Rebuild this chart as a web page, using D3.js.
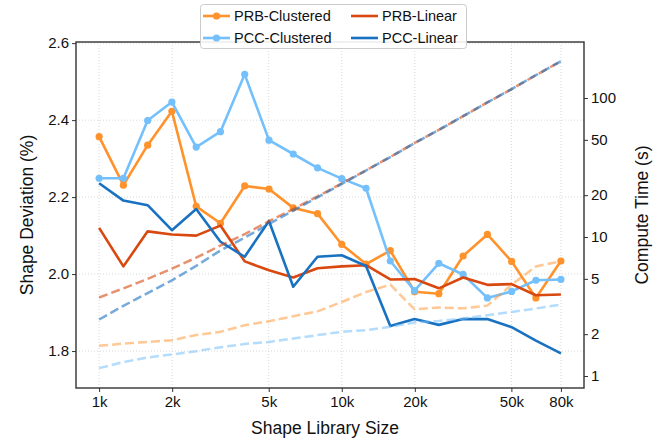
<!DOCTYPE html>
<html>
<head>
<meta charset="utf-8">
<script src="https://cdn.jsdelivr.net/npm/d3@7/dist/d3.min.js"></script>
<style>
  html, body { margin: 0; padding: 0; background: #fff; }
  svg { display: block; font-family: "Liberation Sans", Arial, sans-serif; }
</style>
</head>
<body>
<svg id="chart" width="672" height="440"></svg>
<script>
// Shape library sizes (x axis, log scale)
const sizes = [1000, 1259, 1585, 1995, 2512, 3162, 3981, 5012, 6310, 7943,
               10000, 12589, 15849, 19953, 25119, 31623, 39811, 50119, 63096, 80000];

// Shape deviation (%) — left axis
const prbClustered = [2.357, 2.231, 2.335, 2.423, 2.176, 2.132, 2.229, 2.221, 2.172, 2.157,
                      2.077, 2.026, 2.061, 1.954, 1.949, 2.047, 2.103, 2.033, 1.938, 2.034];
const pccClustered = [2.249, 2.249, 2.399, 2.447, 2.330, 2.370, 2.519, 2.348, 2.312, 2.276,
                      2.248, 2.223, 2.034, 1.957, 2.028, 1.999, 1.938, 1.955, 1.984, 1.986];
const prbLinear    = [2.120, 2.020, 2.111, 2.103, 2.100, 2.126, 2.033, 2.010, 1.991, 2.015,
                      2.020, 2.023, 1.986, 1.987, 1.963, 1.991, 1.972, 1.974, 1.945, 1.947];
const pccLinear    = [2.236, 2.191, 2.179, 2.114, 2.169, 2.084, 2.045, 2.138, 1.967, 2.045,
                      2.049, 2.021, 1.865, 1.883, 1.868, 1.883, 1.883, 1.862, 1.827, 1.794];

// Compute time (s) — right axis
const prbClusteredTime = [1.65, 1.71, 1.76, 1.81, 1.97, 2.08, 2.32, 2.48, 2.69, 2.92,
                          3.41, 4.02, 4.54, 3.02, 3.11, 3.07, 3.21, 4.54, 6.14, 6.70];
const pccClusteredTime = [1.14, 1.26, 1.36, 1.43, 1.51, 1.61, 1.70, 1.76, 1.86, 1.97,
                          2.08, 2.14, 2.26, 2.43, 2.49, 2.59, 2.74, 2.89, 3.06, 3.27];
const prbLinearTime    = [3.67, 4.27, 5.0, 5.92, 7.1, 8.69, 10.5, 13.0, 15.9, 19.6,
                          24.3, 30.2, 37.7, 47.5, 59, 74, 93, 116, 146, 184];
const pccLinearTime    = [2.55, 3.2, 3.95, 4.88, 6.2, 8.0, 9.9, 12.4, 15.5, 19.3,
                          24.1, 30.1, 37.6, 47.4, 59, 74, 93, 116, 146, 184];

// Tick values and labels
const xTicks = [1000, 2000, 5000, 10000, 20000, 50000, 80000];
const xTickLabels = ["1k", "2k", "5k", "10k", "20k", "50k", "80k"];
const yLeftTicks = [1.8, 2.0, 2.2, 2.4, 2.6];
const yRightTicks = [1, 2, 5, 10, 20, 50, 100];

const colors = {
  prbClustered: "#ff922b",
  pccClustered: "#74c0fc",
  prbLinear: "#d9480f",
  pccLinear: "#1971c2"
};

const plot = { left: 76, right: 584, top: 42, bottom: 388 };
const svg = d3.select("#chart");

const x = d3.scaleLog().domain([803, 99600]).range([plot.left, plot.right]);
const yL = d3.scaleLinear().domain([1.704, 2.603]).range([plot.bottom, plot.top]);
const yR = d3.scaleLog().domain([0.82, 253]).range([plot.bottom, plot.top]);

// Dotted grid
const grid = svg.append("g").attr("stroke", "#d4d4d4").attr("stroke-width", 0.9)
  .attr("stroke-dasharray", "1,2");
grid.selectAll("line.v").data(xTicks).join("line")
  .attr("x1", d => x(d)).attr("x2", d => x(d))
  .attr("y1", plot.top).attr("y2", plot.bottom);
grid.selectAll("line.h").data(yLeftTicks).join("line")
  .attr("x1", plot.left).attr("x2", plot.right)
  .attr("y1", d => yL(d)).attr("y2", d => yL(d));

// Deviation series (solid)
const devSeries = [
  { values: prbClustered, color: colors.prbClustered, markers: true },
  { values: pccClustered, color: colors.pccClustered, markers: true },
  { values: prbLinear, color: colors.prbLinear, markers: false },
  { values: pccLinear, color: colors.pccLinear, markers: false }
];
const lineL = d3.line().x(d => x(d[0])).y(d => yL(d[1]));
devSeries.forEach(s => {
  const pts = sizes.map((sz, i) => [sz, s.values[i]]);
  svg.append("path").datum(pts)
    .attr("d", lineL).attr("fill", "none")
    .attr("stroke", s.color).attr("stroke-width", 2.6)
    .attr("stroke-linejoin", "round");
  if (s.markers) {
    svg.append("g").selectAll("circle").data(pts).join("circle")
      .attr("cx", d => x(d[0])).attr("cy", d => yL(d[1]))
      .attr("r", 3.6).attr("fill", s.color);
  }
});

// Compute-time series (dashed, right axis)
const timeSeries = [
  { values: prbClusteredTime, color: colors.prbClustered, opacity: 0.5 },
  { values: pccClusteredTime, color: colors.pccClustered, opacity: 0.55 },
  { values: prbLinearTime, color: colors.prbLinear, opacity: 0.6 },
  { values: pccLinearTime, color: colors.pccLinear, opacity: 0.6 }
];
const lineR = d3.line().x(d => x(d[0])).y(d => yR(d[1]));
timeSeries.forEach(s => {
  const pts = sizes.map((sz, i) => [sz, s.values[i]]);
  svg.append("path").datum(pts)
    .attr("d", lineR).attr("fill", "none")
    .attr("stroke", s.color).attr("stroke-opacity", s.opacity)
    .attr("stroke-width", 2.5).attr("stroke-dasharray", "9,4");
});

// Axes
const fontTick = "15px";
const xAxis = d3.axisBottom(x).tickValues(xTicks)
  .tickFormat((d, i) => xTickLabels[i]).tickSizeInner(4).tickSizeOuter(0).tickPadding(4);
const gx = svg.append("g").attr("transform", `translate(0,${plot.bottom})`).call(xAxis);

const yAxisL = d3.axisLeft(yL).tickValues(yLeftTicks)
  .tickFormat(d3.format(".1f")).tickSizeInner(4).tickSizeOuter(0).tickPadding(3);
const gyl = svg.append("g").attr("transform", `translate(${plot.left},0)`).call(yAxisL);

const yAxisR = d3.axisRight(yR).tickValues(yRightTicks)
  .tickFormat(d3.format("d")).tickSizeInner(4).tickSizeOuter(0).tickPadding(3);
const gyr = svg.append("g").attr("transform", `translate(${plot.right},0)`).call(yAxisR);

[gx, gyl, gyr].forEach(g => {
  g.select(".domain").remove();
  g.selectAll(".tick line").attr("stroke", "#333").attr("stroke-width", 1);
  g.selectAll(".tick text").attr("fill", "#111").style("font-size", fontTick)
    .style("font-family", "'Liberation Sans', Arial, sans-serif");
});

// Frame
svg.append("rect")
  .attr("x", plot.left).attr("y", plot.top)
  .attr("width", plot.right - plot.left).attr("height", plot.bottom - plot.top)
  .attr("fill", "none").attr("stroke", "#333").attr("stroke-width", 1.4);

// Axis titles
svg.append("text")
  .attr("x", (plot.left + plot.right) / 2 - 5).attr("y", 434)
  .attr("text-anchor", "middle").style("font-size", "17.5px").attr("fill", "#111")
  .text("Shape Library Size");
svg.append("text")
  .attr("transform", `translate(33,${(plot.top + plot.bottom) / 2}) rotate(-90)`)
  .attr("text-anchor", "middle").style("font-size", "17.5px").attr("fill", "#111")
  .text("Shape Deviation (%)");
svg.append("text")
  .attr("transform", `translate(648,${(plot.top + plot.bottom) / 2}) rotate(-90)`)
  .attr("text-anchor", "middle").style("font-size", "17.5px").attr("fill", "#111")
  .text("Compute Time (s)");

// Legend
const legendItems = [
  { label: "PRB-Clustered", color: colors.prbClustered, marker: true, col: 0, row: 0 },
  { label: "PCC-Clustered", color: colors.pccClustered, marker: true, col: 0, row: 1 },
  { label: "PRB-Linear", color: colors.prbLinear, marker: false, col: 1, row: 0 },
  { label: "PCC-Linear", color: colors.pccLinear, marker: false, col: 1, row: 1 }
];
const legend = svg.append("g");
legend.append("rect")
  .attr("x", 200.5).attr("y", 4.5).attr("width", 266).attr("height", 44).attr("rx", 3)
  .attr("fill", "#fff").attr("fill-opacity", 0.9)
  .attr("stroke", "#cccccc").attr("stroke-width", 1);
const colX = [203, 351];
const rowY = [16, 38];
legendItems.forEach(it => {
  const lx = colX[it.col], ly = rowY[it.row];
  legend.append("line")
    .attr("x1", lx).attr("x2", lx + 27).attr("y1", ly).attr("y2", ly)
    .attr("stroke", it.color).attr("stroke-width", 2.6);
  if (it.marker) {
    legend.append("circle").attr("cx", lx + 13.5).attr("cy", ly).attr("r", 3.6)
      .attr("fill", it.color);
  }
  legend.append("text")
    .attr("x", lx + 31).attr("y", ly).attr("dy", "0.36em")
    .style("font-size", "14.5px").attr("fill", "#111")
    .text(it.label);
});
</script>
</body>
</html>
